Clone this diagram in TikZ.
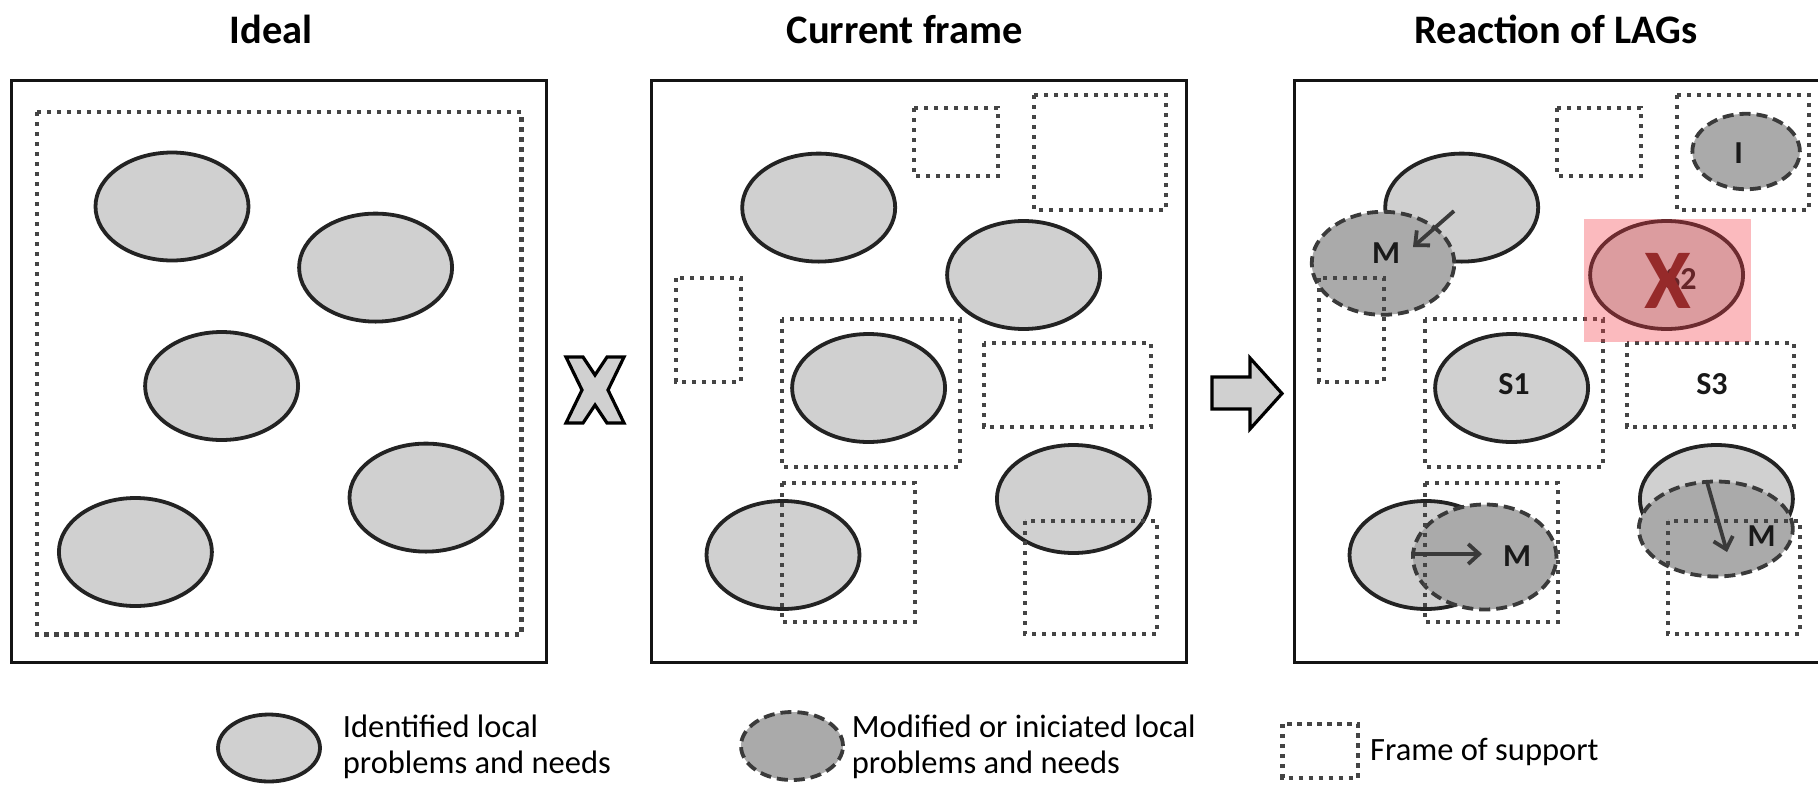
\documentclass[tikz,border=0pt]{standalone}
\usepackage{fontspec}
\setmainfont{Carlito}
\usetikzlibrary{shapes.geometric,arrows.meta}
\definecolor{lightfill}{RGB}{208,208,208}
\definecolor{darkfill}{RGB}{170,170,170}
\definecolor{outl}{RGB}{35,35,35}
\definecolor{dashc}{RGB}{58,58,58}
\definecolor{dotc}{RGB}{68,68,68}
\definecolor{overlayc}{RGB}{245,60,70}
\definecolor{xred}{RGB}{150,42,42}
\begin{document}
\begin{tikzpicture}[x=1pt,y=-1pt,
 frame/.style={draw=black!92, line width=3pt},
 solidell/.style={ellipse, draw=outl, fill=lightfill, line width=3.8pt, minimum width=153pt, minimum height=108pt, inner sep=0pt},
 dashell/.style={ellipse, draw=dashc, fill=darkfill, line width=3.8pt, dash pattern=on 11pt off 6pt, inner sep=0pt},
 dotrect/.style={draw=dotc, line width=4.5pt, dash pattern=on 4.3pt off 5.7pt},
 title/.style={font=\fontsize{40.5}{40.5}\selectfont\bfseries, anchor=base, inner sep=0pt},
 lbl/.style={font=\fontsize{32}{32}\selectfont\bfseries, text=black!90, inner sep=0pt},
 legtext/.style={font=\fontsize{32.5}{32.5}\selectfont, anchor=base west, inner sep=0pt},
 movearrow/.style={draw=dashc, line width=3.8pt, -{Straight Barb[length=11pt,width=20pt]}},
 bigsym/.style={draw=black, line width=3.2pt, fill=lightfill, line join=miter}
]
\fill[white] (0,0) rectangle (1818,785);
\useasboundingbox (0,0) rectangle (1818,785);

% titles
\node[title] (t1) at (271,43.4) {Ideal};
\node[title] (t2) at (904.7,43.4) {Current frame};
\node[title] (t3) at (1556,43.4) {Reaction of LAGs};

% ---------- panel 1 ----------
\draw[frame] (11,80) rectangle (546,662);
\node[solidell] (p1a) at (172,206.5) {};
\node[solidell] (p1b) at (375.6,267.6) {};
\node[solidell] (p1c) at (221.6,386) {};
\node[solidell] (p1d) at (426,497.6) {};
\node[solidell] (p1e) at (135.4,552) {};
\draw[dotrect] (37,112) rectangle (521.5,634.5);

% cross symbol
\draw[bigsym] (566,357) -- (583,357) -- (595,375) -- (607,357) -- (624,357) -- (608,390)
  -- (624,423) -- (607,423) -- (595,405) -- (583,423) -- (566,423) -- (582,390) -- cycle;

% ---------- panel 2 ----------
\draw[frame] (651.5,80) rectangle (1186,662);
\node[solidell] (p2a) at (818.7,207.6) {};
\node[solidell] (p2b) at (1023.6,275) {};
\node[solidell] (p2c) at (868.6,388) {};
\node[solidell] (p2d) at (1073.4,499) {};
\node[solidell] (p2e) at (783,555) {};
\draw[dotrect] (914,108) rectangle (998,176);
\draw[dotrect] (1034,95) rectangle (1166,210);
\draw[dotrect] (676,278) rectangle (741,382);
\draw[dotrect] (782,319) rectangle (960,467);
\draw[dotrect] (984,343) rectangle (1151,427);
\draw[dotrect] (782,483) rectangle (915,622);
\draw[dotrect] (1025,521) rectangle (1157,634);

% block arrow
\draw[bigsym] (1212,377) -- (1250,377) -- (1250,358) -- (1282,393.5) -- (1250,429)
  -- (1250,409) -- (1212,409) -- cycle;

% ---------- panel 3 ----------
\draw[frame] (1818,80) -- (1294.5,80) -- (1294.5,662) -- (1818,662);
\node[solidell] (q1) at (1461.7,207.6) {};
\node[solidell] (q2) at (1666.6,275) {};
\node[solidell] (q3) at (1511.6,388) {};
\node[solidell] (q4) at (1716.4,499) {};
\node[solidell] (q5) at (1426,555) {};
\node[dashell, minimum width=142.5pt, minimum height=103pt] (m1) at (1383,263.3) {};
\node[dashell, minimum width=143.5pt, minimum height=105pt] (m2) at (1484.7,557) {};
\node[dashell, minimum width=154pt, minimum height=95pt] (m3) at (1715.8,529) {};
\node[dashell, minimum width=107.5pt, minimum height=75.5pt] (ie) at (1746.1,151.5) {};

\draw[dotrect] (1557,108) rectangle (1641,176);
\draw[dotrect] (1677,95) rectangle (1809,210);
\draw[dotrect] (1319,278) rectangle (1384,382);
\draw[dotrect] (1425,319) rectangle (1603,467);
\draw[dotrect] (1627,343) rectangle (1794,427);
\draw[dotrect] (1425,483) rectangle (1558,622);
\draw[dotrect] (1668,521) rectangle (1800,634);

\coordinate (a1s) at (1454,211);
\coordinate (a1e) at (1413,247);
\coordinate (a2s) at (1411,554);
\coordinate (a2e) at (1482,554);
\coordinate (a3s) at (1707,482);
\coordinate (a3e) at (1727,552);
\draw[movearrow] (a1s) -- (a1e);
\draw[movearrow] (a2s) -- (a2e);
\draw[movearrow] (a3s) -- (a3e);

\node[lbl] (lm1) at (1386,253) {M};
\node[lbl] (lm2) at (1517,556) {M};
\node[lbl] (lm3) at (1761.6,536.5) {M};
\node[lbl] (ls1) at (1514,384) {S1};
\node[lbl] (ls2) at (1681,279) {S2};
\node[lbl] (ls3) at (1712,384) {S3};
\node[lbl] (li) at (1738.6,153) {I};

% red overlay
\fill[overlayc, fill opacity=0.35] (1584,219) rectangle (1751,342);
\node[font=\fontsize{85}{85}\selectfont\bfseries, text=xred, inner sep=0pt] (redx) at (1667.5,281) {X};

% ---------- legend ----------
\node[solidell, minimum width=102pt, minimum height=67pt] (l1) at (269,748) {};
\node[legtext] (l1a) at (342.7,737) {Identified local};
\node[legtext] (l1b) at (342.7,773) {problems and needs};
\node[dashell, minimum width=102pt, minimum height=68pt] (l2) at (792,746) {};
\node[legtext] (l2a) at (851.7,737) {Modified or iniciated local};
\node[legtext] (l2b) at (851.7,773) {problems and needs};
\draw[dotrect] (1282.5,724) rectangle (1358,778);
\node[legtext] (l3a) at (1370,760) {Frame of support};
\end{tikzpicture}
\end{document}
